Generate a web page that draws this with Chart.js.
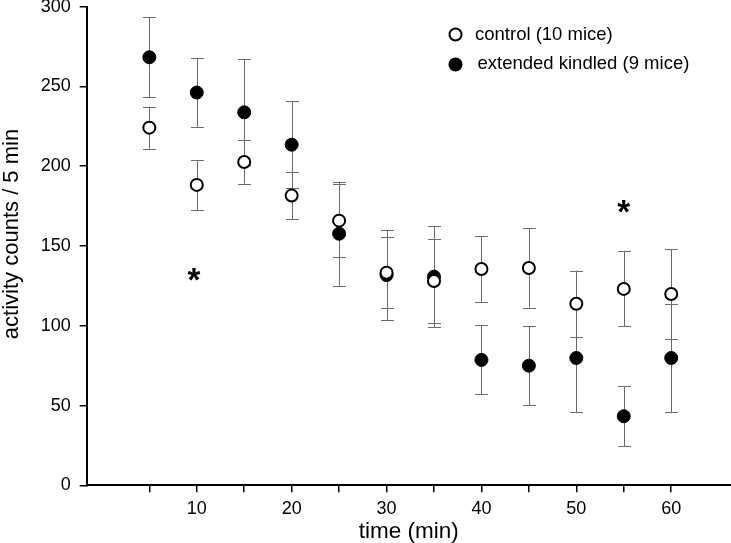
<!DOCTYPE html>
<html>
<head>
<meta charset="utf-8">
<script src="https://cdn.jsdelivr.net/npm/chart.js@4/dist/chart.umd.min.js"></script>
<style>
html,body{margin:0;padding:0;background:#fff;}
#wrap{width:731px;height:543px;}
</style>
</head>
<body>
<div id="wrap"><canvas id="c" width="731" height="543"></canvas></div>
<script>
const times = [5, 10, 15, 20, 25, 30, 35, 40, 45, 50, 55, 60];
const controlMean = [224.2, 188.3, 202.7, 181.6, 165.9, 133.3, 128.1, 135.6, 136.2, 113.8, 123.1, 119.9];
const controlErr  = [13.2, 15.5, 13.6, 14.8, 23.0, 22.2, 26.5, 20.6, 24.8, 20.7, 23.5, 28.1];
const kindledMean = [268.3, 246.2, 233.8, 213.5, 157.7, 131.8, 130.8, 78.6, 75.0, 79.8, 43.3, 79.8];
const kindledErr  = [25.0, 21.6, 33.3, 27.4, 32.6, 28.3, 31.5, 21.6, 24.8, 34.0, 18.8, 34.0];
const xTicks = [5, 10, 15, 20, 25, 30, 35, 40, 45, 50, 55, 60];
const xTickLabels = ['', '10', '', '20', '', '30', '', '40', '', '50', '', '60'];
const yTicks = [0, 50, 100, 150, 200, 250, 300];
const seriesLabels = ['control (10 mice)', 'extended kindled (9 mice)'];
const xTitle = 'time (min)';
const yTitle = 'activity counts / 5 min';
const starX = [9.7, 55];
const starY = [131, 174];

const FONT = "'Liberation Sans', Arial, sans-serif";

const errorBars = {
  id: 'errorBars',
  beforeDatasetsDraw(chart) {
    const {ctx, scales: {x, y}} = chart;
    const sets = [[kindledMean, kindledErr], [controlMean, controlErr]];
    ctx.save();
    ctx.strokeStyle = '#6a6a6a';
    ctx.lineWidth = 1;
    sets.forEach(([m, e]) => {
      m.forEach((v, i) => {
        const px = Math.round(x.getPixelForValue(times[i])) + 0.5;
        const top = y.getPixelForValue(v + e[i]);
        const bot = y.getPixelForValue(v - e[i]);
        ctx.beginPath();
        ctx.moveTo(px, top); ctx.lineTo(px, bot);
        ctx.moveTo(px - 6.5, Math.round(top) + 0.5); ctx.lineTo(px + 6.5, Math.round(top) + 0.5);
        ctx.moveTo(px - 6.5, Math.round(bot) + 0.5); ctx.lineTo(px + 6.5, Math.round(bot) + 0.5);
        ctx.stroke();
      });
    });
    ctx.restore();
  }
};

const extras = {
  id: 'extras',
  afterDraw(chart) {
    const {ctx, scales: {x, y}} = chart;
    ctx.save();
    // y axis title
    ctx.fillStyle = '#000';
    ctx.font = '22px ' + FONT;
    ctx.textAlign = 'center';
    ctx.textBaseline = 'middle';
    ctx.translate(11.5, 234);
    ctx.rotate(-Math.PI / 2);
    ctx.fillText(yTitle, 0, 0);
    ctx.restore();
    ctx.save();
    // asterisks
    ctx.fillStyle = '#000';
    ctx.font = 'bold 33px ' + FONT;
    ctx.textAlign = 'center';
    ctx.textBaseline = 'alphabetic';
    starX.forEach((sx, i) => {
      ctx.fillText('*', x.getPixelForValue(sx), y.getPixelForValue(starY[i]) + 15);
    });
    // legend
    ctx.font = '18.5px ' + FONT;
    ctx.textAlign = 'left';
    ctx.textBaseline = 'middle';
    ctx.beginPath();
    ctx.arc(455.5, 34.5, 6, 0, Math.PI * 2);
    ctx.fillStyle = '#fff'; ctx.fill();
    ctx.lineWidth = 2; ctx.strokeStyle = '#000'; ctx.stroke();
    ctx.beginPath();
    ctx.arc(455.5, 64.5, 7, 0, Math.PI * 2);
    ctx.fillStyle = '#000'; ctx.fill();
    ctx.fillText(seriesLabels[0], 475, 35);
    ctx.fillText(seriesLabels[1], 477.5, 64);
    ctx.restore();
  }
};

new Chart(document.getElementById('c'), {
  type: 'scatter',
  data: {
    datasets: [
      {
        label: seriesLabels[0],
        data: times.map((t, i) => ({x: t, y: controlMean[i]})),
        pointStyle: 'circle', pointRadius: 6, pointBorderWidth: 2,
        pointBackgroundColor: '#fff', pointBorderColor: '#000',
        pointHoverRadius: 6
      },
      {
        label: seriesLabels[1],
        data: times.map((t, i) => ({x: t, y: kindledMean[i]})),
        pointStyle: 'circle', pointRadius: 6.5, pointBorderWidth: 1,
        pointBackgroundColor: '#000', pointBorderColor: '#000',
        pointHoverRadius: 6.5
      }
    ]
  },
  options: {
    responsive: false,
    animation: false,
    devicePixelRatio: 1,
    layout: {padding: {top: 6.7, left: 0, right: 0, bottom: 0}, autoPadding: false},
    plugins: {legend: {display: false}, tooltip: {enabled: false}},
    scales: {
      x: {
        type: 'linear', min: -1.6, max: 66.3,
        afterBuildTicks(s) { s.ticks = xTicks.map(v => ({value: v})); },
        afterFit(s) { s.height = 57.7; s.paddingLeft = 0; s.paddingRight = 0; },
        ticks: {
          callback: (v, i) => xTickLabels[i],
          autoSkip: false, maxRotation: 0, padding: 6,
          color: '#000', font: {family: FONT, size: 18}
        },
        grid: {drawOnChartArea: false, drawTicks: true, tickLength: 7, color: '#000', lineWidth: 1.5},
        border: {display: true, color: '#000', width: 2},
        title: {display: true, text: xTitle, color: '#000',
          font: {family: FONT, size: 22.5, lineHeight: 1}, padding: {top: 0, bottom: 0}}
      },
      y: {
        type: 'linear', min: 0, max: 300,
        afterBuildTicks(s) { s.ticks = yTicks.map(v => ({value: v})); },
        afterFit(s) { s.width = 86.7; s.paddingTop = 0; s.paddingBottom = 0; },
        ticks: {color: '#000', padding: 9, font: {family: FONT, size: 18}},
        grid: {drawOnChartArea: false, drawTicks: true, tickLength: 7, color: '#000', lineWidth: 1.5},
        border: {display: true, color: '#000', width: 2},
        title: {display: false}
      }
    }
  },
  plugins: [errorBars, extras]
});
</script>
</body>
</html>
